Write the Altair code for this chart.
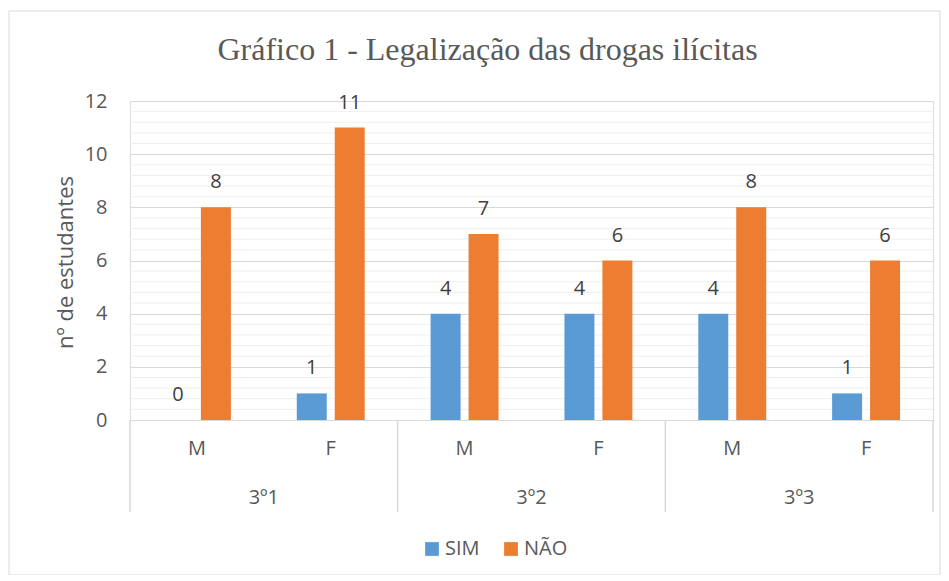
import altair as alt
import pandas as pd

# ---- data ----
turmas = ["3º1", "3º1", "3º2", "3º2", "3º3", "3º3"]
sexo = ["M", "F", "M", "F", "M", "F"]
sim = [0, 1, 4, 4, 4, 1]
nao = [8, 11, 7, 6, 8, 6]
series = ["SIM", "NÃO"]
colors = ["#5B9BD5", "#ED7D31"]
groups = ["3º1", "3º2", "3º3"]
y_ticks = [0, 2, 4, 6, 8, 10, 12]
minor_ticks = [round(i * 0.4, 1) for i in range(31) if i % 5 != 0]

keys = [f"{t}|{s}" for t, s in zip(turmas, sexo)]
rows = []
for k, t, s, a, b in zip(keys, turmas, sexo, sim, nao):
    rows.append(dict(key=k, turma=t, sexo=s, serie="SIM", valor=a))
    rows.append(dict(key=k, turma=t, sexo=s, serie="NÃO", valor=b))
df = pd.DataFrame(rows)

group_df = pd.DataFrame({"turma": groups, "key": [k for k in keys if k.endswith("|M")]})
last_df = pd.DataFrame({"key": [keys[-1]]})
minor_df = pd.DataFrame({"v": minor_ticks})
one_df = pd.DataFrame({"a": [0]})

W, H = 803, 319
FONT = "Open Sans"
GRAY = "#595959"
LINE = "#D9D9D9"

xscale = alt.Scale(domain=keys, paddingInner=0, paddingOuter=0)
yscale = alt.Scale(domain=[0, 12])
xoff = alt.XOffset("serie:N", sort=series,
                   scale=alt.Scale(domain=series, paddingInner=0.21, paddingOuter=0.868))

x_axis = alt.Axis(title=None, labelExpr="split(datum.value, '|')[1]", labelAngle=0,
                  ticks=False, domainColor=LINE, domainWidth=1, labelPadding=18,
                  labelFontSize=20, labelColor=GRAY, labelFont=FONT, grid=False)
y_axis = alt.Axis(values=y_ticks, title="nº de estudantes", domain=False, ticks=False,
                  labelPadding=23, labelFontSize=20, labelColor=GRAY, labelFont=FONT,
                  gridColor=LINE, titleFont=FONT, titleFontSize=22, titleColor=GRAY,
                  titleFontWeight="normal", titleX=-65, titleY=161, titleAngle=-90,
                  titleAlign="center", titleBaseline="middle")

border = alt.Chart(one_df).mark_rect(fill="transparent", stroke=LINE, strokeWidth=1).encode(
    x=alt.value(-121), x2=alt.value(810), y=alt.value(-90), y2=alt.value(474))

minor = alt.Chart(minor_df).mark_rule(color="#EFEFEF", strokeWidth=1).encode(
    y=alt.Y("v:Q", scale=yscale, axis=y_axis))

bars = alt.Chart(df).mark_bar().encode(
    x=alt.X("key:N", scale=xscale, sort=keys, axis=x_axis),
    xOffset=xoff,
    y=alt.Y("valor:Q", scale=yscale, axis=y_axis),
    color=alt.Color("serie:N", sort=series, scale=alt.Scale(domain=series, range=colors),
                    legend=alt.Legend(title=None, orient="none", legendX=292, legendY=438,
                                      direction="horizontal", symbolType="square",
                                      symbolSize=190, symbolStrokeWidth=0,
                                      labelFontSize=20, labelFont=FONT, labelColor=GRAY,
                                      labelOffset=3, columnPadding=21)),
)

labels = alt.Chart(df).mark_text(dy=-25, baseline="middle", fontSize=20, font=FONT,
                                 color="#404040").encode(
    x=alt.X("key:N", scale=xscale, sort=keys),
    xOffset=xoff,
    y=alt.Y("valor:Q", scale=yscale, axis=y_axis),
    text="valor:Q",
)

group_text = alt.Chart(group_df).mark_text(baseline="middle", fontSize=20, font=FONT,
                                           color=GRAY).encode(
    x=alt.X("key:N", scale=xscale, sort=keys, bandPosition=1),
    y=alt.value(H + 78),
    text="turma:N",
)

sep_left = alt.Chart(group_df).mark_rule(color=LINE, strokeWidth=1.5).encode(
    x=alt.X("key:N", scale=xscale, sort=keys, bandPosition=0),
    y=alt.value(H), y2=alt.value(H + 92))

sep_right = alt.Chart(last_df).mark_rule(color=LINE, strokeWidth=1.5).encode(
    x=alt.X("key:N", scale=xscale, sort=keys, bandPosition=1),
    y=alt.value(H), y2=alt.value(H + 92))

chart = alt.layer(border, minor, bars, labels, group_text, sep_left, sep_right).properties(
    width=W, height=H,
    autosize=alt.AutoSizeParams(type="none"),
    padding={"left": 122, "top": 93, "right": 8, "bottom": 155},
    title=alt.TitleParams("Gráfico 1 - Legalização das drogas ilícitas", font="Liberation Serif",
                          fontSize=32, fontWeight="normal", color=GRAY, anchor="middle",
                          dx=-44, dy=30, offset=-51, baseline="alphabetic"),
).configure_view(stroke=None).configure(background="white")

chart.save("out.html", embed_options={"renderer": "svg", "actions": False})
